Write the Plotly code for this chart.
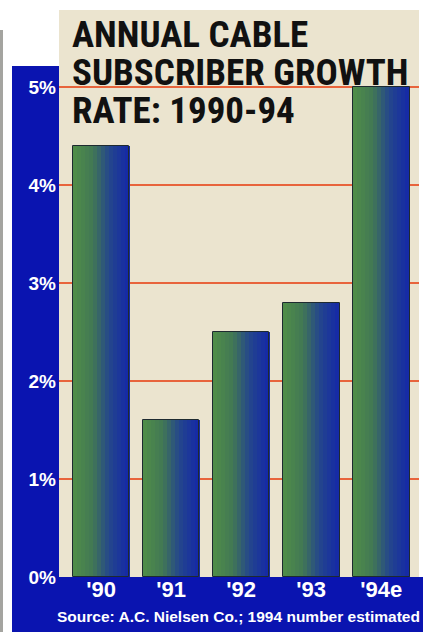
import plotly.graph_objects as go

# Data
years = ["'90", "'91", "'92", "'93", "'94e"]
growth = [4.4, 1.6, 2.5, 2.8, 5.0]
tick_vals = [0, 1, 2, 3, 4, 5]
tick_text = ["0%", "1%", "2%", "3%", "4%", "5%"]
title_lines = ["ANNUAL CABLE", "SUBSCRIBER GROWTH", "RATE: 1990-94"]
source_note = "Source: A.C. Nielsen Co.; 1994 number estimated"

W, H = 423, 632
# plot area in window pixels
P_LEFT, P_RIGHT, P_TOP, P_BOTTOM = 59, 419, 10, 577
ML, MR, MT, MB = P_LEFT, W - P_RIGHT, P_TOP, H - P_BOTTOM
PW, PH = P_RIGHT - P_LEFT, P_BOTTOM - P_TOP

FRAME_BLUE = "#0a14b0"
BEIGE = "#ebe4cf"
GRID = "#e8643c"
NARROW = "Liberation Sans Narrow, Roboto Condensed, DejaVu Sans Condensed, Arial Narrow, sans-serif"
BOLD = "Liberation Sans, Arial, sans-serif"


def px_x(v):
    return (v - P_LEFT) / PW


def px_y(v):
    return (P_BOTTOM - v) / PH


def lerp_color(t):
    stops = [(0.0, (80, 142, 72)), (0.35, (66, 120, 84)), (0.65, (36, 70, 140)), (1.0, (20, 40, 168))]
    for (t0, c0), (t1, c1) in zip(stops, stops[1:]):
        if t <= t1:
            f = (t - t0) / (t1 - t0)
            return "rgb(%d,%d,%d)" % tuple(round(a + (b - a) * f) for a, b in zip(c0, c1))
    return "rgb(%d,%d,%d)" % stops[-1][1]


fig = go.Figure()

# bars drawn as vertical strips so each one fades green -> blue
bar_w = 0.81
n_strips = 14
strip_w = bar_w / n_strips
for i in range(n_strips):
    fig.add_trace(go.Bar(
        x=years, y=growth,
        width=strip_w * 1.05,
        offset=-bar_w / 2 + i * strip_w,
        marker=dict(color=lerp_color((i + 0.5) / n_strips), line=dict(width=0)),
        hoverinfo="skip", showlegend=False,
    ))

# thin dark outline round each bar
fig.add_trace(go.Bar(
    x=years, y=growth, width=bar_w, offset=-bar_w / 2,
    marker=dict(color="rgba(0,0,0,0)", line=dict(color="#1e2a30", width=1)),
    hovertemplate="%{x}: %{y}%<extra></extra>", showlegend=False,
))

shapes = [
    # left blue column
    dict(type="rect", xref="paper", yref="paper", layer="below",
         x0=px_x(12), x1=0, y0=px_y(H), y1=px_y(66),
         fillcolor=FRAME_BLUE, line=dict(width=0)),
    # bottom blue band
    dict(type="rect", xref="paper", yref="paper", layer="below",
         x0=px_x(12), x1=px_x(W), y0=px_y(H), y1=0,
         fillcolor=FRAME_BLUE, line=dict(width=0)),
    # grey scan edge at far left
    dict(type="rect", xref="paper", yref="paper", layer="below",
         x0=px_x(0), x1=px_x(3), y0=px_y(H), y1=px_y(30),
         fillcolor="#a4a4a0", line=dict(width=0)),
]

annotations = []
for line, cy in zip(title_lines, [34, 72, 110]):
    annotations.append(dict(
        text=line, xref="paper", yref="paper", x=px_x(70), y=px_y(cy),
        xanchor="left", yanchor="middle", showarrow=False,
        font=dict(family=NARROW, size=37, color="#111111", weight="bold"),
    ))
annotations.append(dict(
    text=source_note, xref="paper", yref="paper", x=px_x(55), y=px_y(616),
    xanchor="left", yanchor="middle", showarrow=False,
    font=dict(family=BOLD, size=15.5, color="white", weight="bold"),
))

fig.update_layout(
    width=W, height=H,
    margin=dict(l=ML, r=MR, t=MT, b=MB),
    paper_bgcolor="white",
    plot_bgcolor=BEIGE,
    barmode="overlay",
    bargap=0,
    shapes=shapes,
    annotations=annotations,
    xaxis=dict(
        type="category", range=[-0.6, 4.54],
        showgrid=False, zeroline=False, showline=False,
        ticks="", ticklabelstandoff=-3,
        tickfont=dict(family=BOLD, size=22, color="white", weight="bold"),
    ),
    yaxis=dict(
        range=[0, 5.79], tickvals=tick_vals, ticktext=tick_text,
        showgrid=True, gridcolor=GRID, gridwidth=2,
        zeroline=False, showline=False,
        ticks="", ticklabelstandoff=2,
        tickfont=dict(family=BOLD, size=19, color="white", weight="bold"),
    ),
)

# drop the default body margin so the figure fills the window exactly
fig.write_html(
    "out.html",
    config={"displayModeBar": False},
    post_script="document.body.style.margin='0';document.body.style.overflow='hidden';",
)
